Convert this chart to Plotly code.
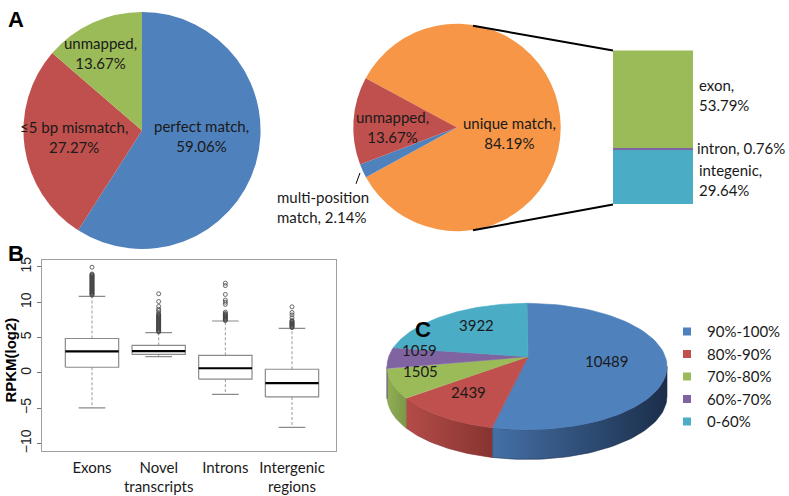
import numpy as np
import plotly.graph_objects as go

W, H = 789, 496

# ---------------- data ----------------
# Panel A, left pie: read alignment classes (%)
readLabels = ["perfect match", "≤5 bp mismatch", "unmapped"]
readPct = [59.06, 27.27, 13.67]

# Panel A, middle pie: mapping classes (%)
mapLabels = ["unique match", "multi-position match", "unmapped"]
mapPct = [84.19, 2.14, 13.67]

# Panel A, bar of pie: unique matches split (%), bottom to top
uniqLabels = ["integenic", "intron", "exon"]
uniqPct = [29.64, 0.76, 53.79]

# Panel B: box plot statistics of RPKM(log2)
boxCats = ["Exons", "Novel transcripts", "Introns", "Intergenic regions"]
boxTickText = ["Exons", "Novel<br>transcripts", "Introns", "Intergenic<br>regions"]
boxLower = [-4.95, 2.29, -3.04, -7.71]
boxQ1 = [0.79, 2.62, -0.89, -3.41]
boxMedian = [3.04, 3.08, 0.65, -1.45]
boxQ3 = [4.86, 3.88, 2.48, 0.51]
boxUpper = [10.84, 5.70, 7.34, 6.31]
outExons = [11.0, 11.1, 11.2, 11.3, 11.4, 11.5, 11.6, 11.7, 11.8, 11.9, 12.0,
            12.1, 12.2, 12.3, 12.4, 12.5, 12.6, 12.7, 12.8, 12.9, 13.0, 13.1,
            13.2, 13.3, 13.4, 13.5, 13.6, 13.7, 13.8, 13.9, 14.0, 14.95]
outNovel = [5.8, 5.9, 6.0, 6.1, 6.2, 6.3, 6.4, 6.5, 6.6, 6.7, 6.8, 6.9, 7.0,
            7.1, 7.2, 7.3, 7.4, 7.5, 7.6, 7.7, 7.8, 7.9, 8.0, 8.1, 8.2, 8.3,
            8.5, 8.8, 9.0, 9.4, 10.1, 11.2]
outIntrons = [7.4, 7.5, 7.6, 7.7, 7.8, 7.9, 8.0, 8.1, 8.2, 8.3, 8.4, 8.6,
              9.7, 10.0, 10.3, 11.1, 12.35, 12.7]
outInterg = [6.4, 6.5, 6.6, 6.7, 6.8, 6.9, 7.0, 7.1, 7.2, 7.3, 7.4, 7.8,
             8.2, 8.55, 9.35]
boxOutliers = [outExons, outNovel, outIntrons, outInterg]

# Panel C: 3-D pie of counts
covLabels = ["90%-100%", "80%-90%", "70%-80%", "60%-70%", "0-60%"]
covCounts = [10489, 2439, 1505, 1059, 3922]

# ---------------- styles ----------------
BLUE, RED, GREEN, PURPLE, TEAL, ORANGE = ("#4F81BD", "#C0504D", "#9BBB59",
                                          "#8064A2", "#4BACC6", "#F79646")
FONT = "Lato, 'Open Sans', sans-serif"
TXT = "#1a1a1a"


def px(x):
    return x / W


def py(y):
    return 1 - y / H


fig = go.Figure()
annotations = []
shapes = []


def ann(x, y, text, ref="paper", size=15, xanchor="center", align="center",
        family=FONT, color=TXT, **kw):
    if ref == "paper":
        x, y, xr, yr = px(x), py(y), "paper", "paper"
    else:
        xr, yr = "x3", "y3"
    annotations.append(dict(x=x, y=y, xref=xr, yref=yr, text=text, showarrow=False,
                            xanchor=xanchor, yanchor="middle", align=align,
                            font=dict(size=size, color=color, family=family), **kw))


# ---------- Panel A: left pie ----------
fig.add_trace(go.Pie(
    labels=readLabels, values=readPct, sort=False, direction="clockwise",
    rotation=0, marker=dict(colors=[BLUE, RED, GREEN], line=dict(width=0)),
    textinfo="none", hoverinfo="label+percent", showlegend=False,
    domain=dict(x=[px(22), px(262)], y=[py(249), py(9)])))
readTextPos = [(201, 135), (74, 136), (100, 51)]
for lab, v, (x, y) in zip(readLabels, readPct, readTextPos):
    ann(x, y, f"{lab},<br>{v:.2f}%")

# ---------- Panel A: middle pie ----------
fig.add_trace(go.Pie(
    labels=mapLabels, values=mapPct, sort=False, direction="clockwise",
    rotation=-61.7, marker=dict(colors=[ORANGE, BLUE, RED], line=dict(width=0)),
    textinfo="none", hoverinfo="label+percent", showlegend=False,
    domain=dict(x=[px(352), px(562)], y=[py(231), py(21)])))
ann(509, 132, f"{mapLabels[0]},<br>{mapPct[0]:.2f}%")
ann(392, 126, f"{mapLabels[2]},<br>{mapPct[2]:.2f}%")
ann(275, 207, "multi-position<br>match, %.2f%%" % mapPct[1], xanchor="left", align="left")
shapes.append(dict(type="line", xref="paper", yref="paper",
                   x0=px(360), y0=py(172), x1=px(356), y1=py(183),
                   line=dict(color="black", width=1)))

# ---------- Panel A: bar of pie ----------
for lab, v, c in zip(uniqLabels, uniqPct, [TEAL, PURPLE, GREEN]):
    fig.add_trace(go.Bar(x=[0], y=[v], width=[1], marker=dict(color=c, line=dict(width=0)),
                         name=lab, showlegend=False, xaxis="x2", yaxis="y2",
                         hovertemplate=f"{lab}: {v}%<extra></extra>"))
uniqTextPos = [(697, 179), (695, 147), (697, 93)]
for lab, v, (x, y) in zip(uniqLabels, uniqPct, uniqTextPos):
    t = f"{lab}, {v:.2f}%" if lab == "intron" else f"{lab},<br>{v:.2f}%"
    ann(x, y, t, xanchor="left", align="left")
shapes.append(dict(type="line", xref="paper", yref="paper", x0=px(473), y0=py(23),
                   x1=px(613), y1=py(48), line=dict(color="black", width=2)))
shapes.append(dict(type="line", xref="paper", yref="paper", x0=px(473), y0=py(230),
                   x1=px(613), y1=py(204), line=dict(color="black", width=2)))

# ---------- Panel B: box plot ----------
pos = np.arange(1, len(boxCats) + 1)
hw, cw = 0.4, 0.2
bx, by, mx, my, wx, wy, cx_, cy_, ox, oy = ([] for _ in range(10))
for i, p in enumerate(pos):
    bx += [p - hw, p + hw, p + hw, p - hw, p - hw, None]
    by += [boxQ1[i], boxQ1[i], boxQ3[i], boxQ3[i], boxQ1[i], None]
    mx += [p - hw, p + hw, None]
    my += [boxMedian[i], boxMedian[i], None]
    wx += [p, p, None, p, p, None]
    wy += [boxQ3[i], boxUpper[i], None, boxQ1[i], boxLower[i], None]
    cx_ += [p - cw, p + cw, None, p - cw, p + cw, None]
    cy_ += [boxUpper[i], boxUpper[i], None, boxLower[i], boxLower[i], None]
    ox += [p] * len(boxOutliers[i])
    oy += boxOutliers[i]
GRAY = "#8a8a8a"
fig.add_trace(go.Scatter(x=wx, y=wy, mode="lines", line=dict(color="#9a9a9a", width=1, dash="3px,2px"),
                         showlegend=False, hoverinfo="skip"))
fig.add_trace(go.Scatter(x=cx_, y=cy_, mode="lines", line=dict(color=GRAY, width=1.2),
                         showlegend=False, hoverinfo="skip"))
fig.add_trace(go.Scatter(x=bx, y=by, mode="lines", line=dict(color=GRAY, width=1.2),
                         showlegend=False, hoverinfo="skip"))
fig.add_trace(go.Scatter(x=mx, y=my, mode="lines", line=dict(color="black", width=2.2),
                         showlegend=False, hoverinfo="skip"))
fig.add_trace(go.Scatter(x=ox, y=oy, mode="markers",
                         marker=dict(symbol="circle-open", size=4, color="#444",
                                     line=dict(width=0.8)),
                         showlegend=False))
ann(11, 362, "<b>RPKM(log2)</b>", textangle=-90, color="black",
    family="Liberation Sans, Arial")

# ---------- Panel C: 3-D pie ----------
ccx, ccy, ea, eb, depth = 527, 368, 140, 64, 30
apx, apy = 528, 358
tot = float(sum(covCounts))
bounds = np.concatenate([[0], np.cumsum(covCounts)]) / tot * 360.0
cols = [BLUE, RED, GREEN, PURPLE, TEAL]
sideScales = [["#4470A6", "#1B2E4A"], ["#B44C48", "#873431"], ["#91AF55", "#7C9747"],
              ["#785E98", "#6A5387"], ["#45A0B8", "#3A8A9E"]]


def ell(th):
    t = np.radians(th)
    return ccx + ea * np.sin(t), ccy - eb * np.cos(t)


# sides (front half only)
for i in range(len(covCounts)):
    a0, a1 = max(bounds[i], 90.0), min(bounds[i + 1], 270.0)
    if a1 <= a0:
        continue
    th = np.linspace(a0, a1, 60)
    xs, ys = ell(th)
    X = np.concatenate([xs, xs[::-1], xs[:1]])
    Y = np.concatenate([ys, ys[::-1] + depth, ys[:1]])
    fig.add_trace(go.Scatter(x=X, y=Y, mode="lines", fill="toself",
                             line=dict(width=0.6, color=sideScales[i][1]),
                             fillgradient=dict(type="horizontal",
                                               colorscale=[[0, sideScales[i][0]], [1, sideScales[i][1]]]),
                             xaxis="x3", yaxis="y3", showlegend=False, hoverinfo="skip"))
# top faces
for i in range(len(covCounts)):
    th = np.linspace(bounds[i], bounds[i + 1], 80)
    xs, ys = ell(th)
    X = np.concatenate([[apx], xs, [apx]])
    Y = np.concatenate([[apy], ys, [apy]])
    fig.add_trace(go.Scatter(x=X, y=Y, mode="lines", fill="toself", fillcolor=cols[i],
                             line=dict(width=0.6, color=cols[i]),
                             xaxis="x3", yaxis="y3", showlegend=False,
                             name=covLabels[i], hoverinfo="name"))
# slice labels
labelR = [0.57, 0.70, 0.80, 0.78, 0.62]
for i, n in enumerate(covCounts):
    mid = np.radians((bounds[i] + bounds[i + 1]) / 2)
    lx = apx + labelR[i] * ea * np.sin(mid)
    ly = apy - labelR[i] * eb * np.cos(mid)
    ann(lx, ly, str(n), ref="x3")
# legend entries
for lab, c in zip(covLabels, cols):
    fig.add_trace(go.Scatter(x=[None], y=[None], mode="markers", name=lab,
                             marker=dict(symbol="square", size=8, color=c),
                             xaxis="x3", yaxis="y3", legendgroup=lab, showlegend=True))

# panel letters
for letter, (x, y) in zip(["A", "B", "C"], [(16, 17), (16, 254), (423, 331)]):
    ann(x, y, f"<b>{letter}</b>", size=22, color="black", family="Liberation Sans, Arial")

fig.update_layout(
    width=W, height=H, margin=dict(l=0, r=0, t=0, b=0),
    paper_bgcolor="white", plot_bgcolor="rgba(0,0,0,0)",
    font=dict(family=FONT, color=TXT),
    barmode="stack", bargap=0,
    xaxis=dict(domain=[px(42), px(336)], range=[0.25, 4.66], tickmode="array",
               tickvals=list(pos), ticktext=boxTickText, ticks="", showline=True,
               mirror=True, linecolor="#a0a0a0", linewidth=1, showgrid=False, zeroline=False,
               tickfont=dict(size=15, color=TXT, family=FONT), anchor="y",
               ticklabelstandoff=3),
    yaxis=dict(domain=[py(453), py(260)], range=[-11, 16], tickmode="array",
               tickvals=[-10, -5, 0, 5, 10, 15], ticks="outside", ticklen=4,
               tickcolor="#777", showline=True, mirror=True, linecolor="#a0a0a0",
               linewidth=1, showgrid=False, zeroline=False, tickangle=-90,
               tickfont=dict(size=14, color="#222", family="Liberation Sans, Arial"), anchor="x"),
    xaxis2=dict(domain=[px(613), px(693)], range=[-0.5, 0.5], visible=False, anchor="y2"),
    yaxis2=dict(domain=[py(204), py(48)], range=[0, sum(uniqPct)], visible=False, anchor="x2"),
    xaxis3=dict(domain=[px(370), px(680)], range=[370, 680], visible=False, anchor="y3"),
    yaxis3=dict(domain=[py(480), py(295)], range=[480, 295], visible=False, anchor="x3"),
    showlegend=True,
    legend=dict(x=px(667), y=py(316), xanchor="left", yanchor="top",
                font=dict(size=15, color=TXT, family=FONT), tracegroupgap=0,
                bgcolor="rgba(0,0,0,0)", itemwidth=30),
    annotations=annotations, shapes=shapes,
)

fig.write_html("out.html", config={"displayModeBar": False},
               post_script="document.body.style.margin='0';")
